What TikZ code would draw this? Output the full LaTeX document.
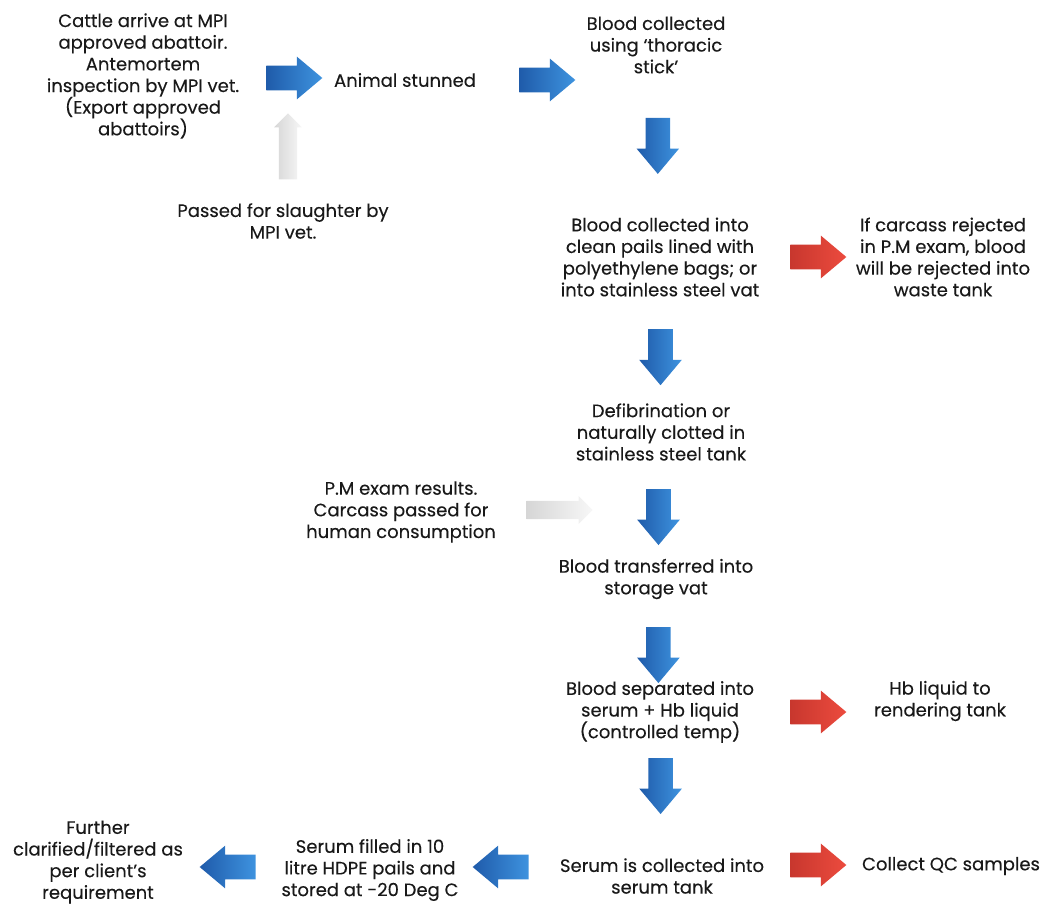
\documentclass[tikz,border=0pt]{standalone}
\usepackage{fontspec}
\setmainfont{Poppins}[FakeBold=0.25]
\usetikzlibrary{shapes.arrows,calc}
\definecolor{bluedark}{HTML}{1F5BAA}
\definecolor{bluelight}{HTML}{3E93DF}
\definecolor{reddark}{HTML}{C8372E}
\definecolor{redlight}{HTML}{EC4B3E}
\definecolor{greydark}{HTML}{D6D6D6}
\definecolor{greylight}{HTML}{F7F7F7}
\tikzset{
  step text/.style={align=center, font=\fontsize{12.8}{15.4}\selectfont, text=black!90, inner sep=2pt},
  block arrow/.style={single arrow, draw=none, inner xsep=0pt, inner ysep=0.3cm,
    minimum height=1.4cm, minimum width=1.05cm, single arrow head extend=0.225cm,
    single arrow tip angle=80},
  bluearrow/.style={block arrow, left color=bluedark, right color=bluelight},
  redarrow/.style={block arrow, left color=reddark, right color=redlight},
  greyarrow/.style={single arrow, draw=none, inner xsep=0pt, inner ysep=0.22cm,
    minimum height=1.65cm, minimum width=0.7cm, single arrow head extend=0.12cm,
    left color=greydark, right color=greylight}
}
\begin{document}
\begin{tikzpicture}[x=0.025cm, y=-0.025cm]
                \useasboundingbox (0,0) rectangle (1044,907);

                % Main column of steps
                \node[step text] (cattle) at (143,76) {Cattle arrive at MPI\\approved abattoir.\\Antemortem\\inspection by MPI vet.\\(Export approved\\abattoirs)};
                \node[step text] (stunned) at (405,80) {Animal stunned};
                \node[step text] (thoracic) at (656,45) {Blood collected\\using `thoracic\\stick'};
                \node[step text] (pails) at (660,257) {Blood collected into\\clean pails lined with\\polyethylene bags; or\\into stainless steel vat};
                \node[step text] (defib) at (661,432) {Defibrination or\\naturally clotted in\\stainless steel tank};
                \node[step text] (storage) at (656,579) {Blood transferred into\\storage vat};
                \node[step text] (separated) at (660,712) {Blood separated into\\serum + Hb liquid\\(controlled temp)};
                \node[step text] (serumtank) at (662,876) {Serum is collected into\\serum tank};

                % Side notes
                \node[step text] (passed) at (283,221) {Passed for slaughter by\\MPI vet.};
                \node[step text] (rejected) at (943,257) {If carcass rejected\\in P.M exam, blood\\will be rejected into\\waste tank};
                \node[step text] (pmexam) at (401,512) {P.M exam results.\\Carcass passed for\\human consumption};
                \node[step text] (hbtank) at (940,701) {Hb liquid to\\rendering tank};
                \node[step text] (qc) at (951,866) {Collect QC samples};
                \node[step text] (pailsfilled) at (370,870) {Serum filled in 10\\litre HDPE pails and\\stored at -20 Deg C};
                \node[step text] (further) at (98,862) {Further\\clarified/filtered as\\per client's\\requirement};

                % Blue arrows along the flow
                \node[bluearrow] (a1) at (287,78) {};
                \node[bluearrow] (a2) at (540,80) {};
                \node[bluearrow, rotate=-90] (d1) at ($(thoracic.south)!0.45!(pails.north)$) {};
                \node[bluearrow, rotate=-90] (d2) at ($(pails.south)!0.5!(defib.north)$) {};
                \node[bluearrow, rotate=-90] (d3) at ($(defib.south)!0.5!(storage.north)$) {};
                \node[bluearrow, rotate=-90] (d4) at ($(storage.south)!0.6!(separated.north)$) {};
                \node[bluearrow, rotate=-90] (d5) at ($(separated.south)!0.3!(serumtank.north)$) {};
                \node[bluearrow, rotate=180] (l1) at (508,867) {};
                \node[bluearrow, rotate=180] (l2) at (235,867) {};

                % Red arrows to rejects and samples
                \node[redarrow] (r1) at (811,257) {};
                \node[redarrow] (r2) at (811,712) {};
                \node[redarrow] (r3) at (811,865) {};

                % Grey arrows for the checks
                \node[greyarrow, rotate=90] (g1) at (288,151) {};
                \node[greyarrow] (g2) at (555,510) {};
            \end{tikzpicture}
\end{document}
